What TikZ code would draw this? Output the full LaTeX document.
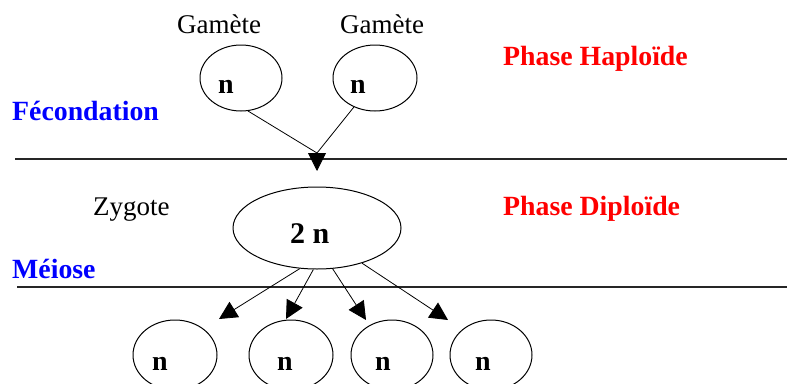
\documentclass[tikz,border=0pt]{standalone}
\usepackage{fontspec}
\setmainfont{Liberation Serif}
\usetikzlibrary{arrows.meta,shapes.geometric}
\begin{document}
\begin{tikzpicture}[x=1pt,y=-1pt,
  ell/.style={draw,ellipse,line width=1pt,inner sep=0pt},
  lbl/.style={anchor=base west,inner sep=0pt,font=\fontsize{27}{31}\selectfont},
  blbl/.style={anchor=base west,inner sep=0pt,font=\fontsize{27.8}{32}\selectfont\bfseries},
  nlbl/.style={anchor=base west,inner sep=0pt,font=\fontsize{28}{32}\selectfont\bfseries},
  conn/.style={line width=0.8pt},
  arr/.style={conn,-{Triangle[length=18pt,width=18pt]}},
  rulel/.style={line width=1.3pt,black!85}]
\useasboundingbox (0,0) rectangle (787,383);

% separating lines
\coordinate (r1a) at (15,159);
\coordinate (r1b) at (787,159);
\coordinate (r2a) at (17,287);
\coordinate (r2b) at (787,287);
\draw[rulel] (r1a) -- (r1b);
\draw[rulel] (r2a) -- (r2b);

% labels
\node[lbl] (gl1) at (177,33) {Gamète};
\node[lbl] (gl2) at (340,33) {Gamète};
\node[lbl] (zl) at (93,215) {Zygote};
\node[blbl,text=red] (ph) at (503,65) {Phase Haploïde};
\node[blbl,text=red] (pd) at (503,215) {Phase Diploïde};
\node[blbl,text=blue] (fec) at (12,120) {Fécondation};
\node[blbl,text=blue] (mei) at (12,278) {Méiose};

% gametes
\node[ell,minimum width=82pt,minimum height=66pt] (g1) at (241,78) {};
\node[ell,minimum width=84pt,minimum height=66pt] (g2) at (375,78) {};
\node[nlbl] (g1n) at (218,93) {n};
\node[nlbl] (g2n) at (350,93) {n};

% zygote
\node[ell,minimum width=168pt,minimum height=82pt] (z) at (317,228) {};
\node[nlbl,font=\fontsize{30}{34}\selectfont\bfseries] (zn) at (290,243) {2 n};

% fusion
\coordinate (m) at (317,153);
\coordinate (mt) at (317,171);
\draw[conn] (g1.282) -- (m);
\draw[conn] (g2.234) -- (m);
\draw[arr] (m) -- (mt);

% daughter cells
\node[ell,minimum width=84pt,minimum height=70pt] (d1) at (175,355) {};
\node[ell,minimum width=84pt,minimum height=70pt] (d2) at (291,355) {};
\node[ell,minimum width=82pt,minimum height=70pt] (d3) at (392,355) {};
\node[ell,minimum width=82pt,minimum height=70pt] (d4) at (491,355) {};
\node[nlbl] (d1n) at (152,370) {n};
\node[nlbl] (d2n) at (277,370) {n};
\node[nlbl] (d3n) at (375,370) {n};
\node[nlbl] (d4n) at (475,370) {n};

\coordinate (t1) at (219,319);
\coordinate (t2) at (286,319);
\coordinate (t3) at (366,320);
\coordinate (t4) at (448,320);
\draw[arr] (z.247) -- (t1);
\draw[arr] (z.265) -- (t2);
\draw[arr] (z.291) -- (t3);
\draw[arr] (z.322) -- (t4);
\end{tikzpicture}
\end{document}
